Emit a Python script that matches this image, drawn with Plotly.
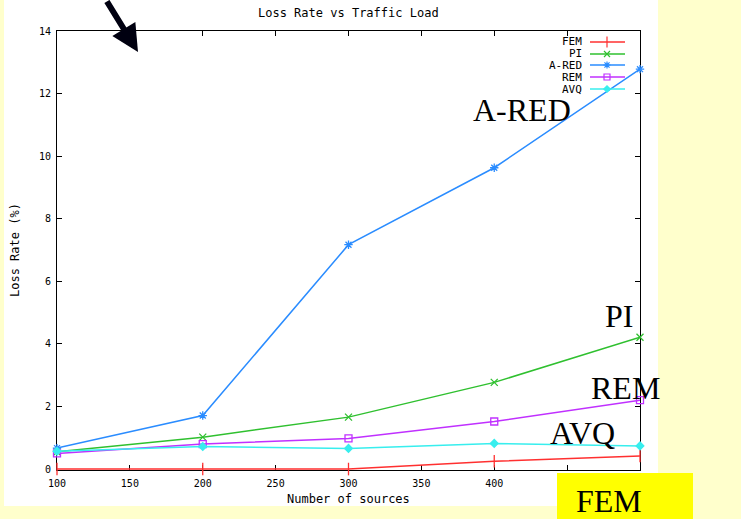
import plotly.graph_objects as go

# ---- data ----
sources = [100, 200, 300, 400, 500]
series_names = ["FEM", "PI", "A-RED", "REM", "AVQ"]
fem = [0.0, 0.0, 0.0, 0.25, 0.42]
pi = [0.55, 1.02, 1.66, 2.77, 4.21]
ared = [0.67, 1.71, 7.17, 9.63, 12.78]
rem = [0.5, 0.8, 0.98, 1.52, 2.2]
avq = [0.57, 0.72, 0.66, 0.82, 0.74]
y_ticks = [0, 2, 4, 6, 8, 10, 12, 14]
x_ticks = [100, 150, 200, 250, 300, 350, 400, 450, 500]
x_ticklabels = ["100", "150", "200", "250", "300", "350", "400", "", ""]  # 450/500 hidden under the FEM box

values = [fem, pi, ared, rem, avq]
colors = ["#ff3030", "#2fc02f", "#2a8cff", "#c030ff", "#38eeee"]
symbols = ["line-ns-open", "x-thin-open", "asterisk-open", "square-open", "diamond"]
msizes = [9, 7, 7, 7, 6]

W, H = 741, 519
L, R, T, B = 57, 640, 31, 470  # plot area in pixels
PW, PH = R - L, B - T


def px(x):
    return (x - L) / PW


def py(y):
    return (B - y) / PH


mono = "DejaVu Sans Mono"
serif = "Liberation Serif"

fig = go.Figure()
for name, vals, c, s, ms in zip(series_names, values, colors, symbols, msizes):
    fig.add_trace(go.Scatter(
        x=sources, y=vals, name=name, mode="lines+markers",
        line=dict(color=c, width=1.5),
        marker=dict(symbol=s, size=ms, color=c, line=dict(color=c, width=1.3)),
        showlegend=False, cliponaxis=False,
    ))

# manual legend (text left, key right), keys drawn on an overlay axis in paper-like units
leg_rows = [42, 54, 65, 77, 89]
shapes = []
annotations = []
for i, (name, c, s, ms) in enumerate(zip(series_names, colors, symbols, msizes)):
    yy = py(leg_rows[i])
    shapes.append(dict(type="line", xref="paper", yref="paper",
                       x0=px(590), x1=px(625), y0=yy, y1=yy,
                       line=dict(color=c, width=1.5)))
    annotations.append(dict(text=name, xref="paper", yref="paper",
                            x=px(584), y=yy, xanchor="right", yanchor="middle",
                            showarrow=False, font=dict(family=mono, size=11, color="black")))
    fig.add_trace(go.Scatter(
        x=[px(607)], y=[yy], xaxis="x2", yaxis="y2", mode="markers",
        marker=dict(symbol=s, size=ms - 1, color=c, line=dict(color=c, width=1.2)),
        showlegend=False, hoverinfo="skip", cliponaxis=False,
    ))

# white slide panel behind the chart
shapes.insert(0, dict(type="rect", xref="paper", yref="paper", layer="below",
                      x0=px(4), x1=px(658), y0=py(506), y1=py(-5),
                      fillcolor="white", line=dict(width=0)))
# yellow FEM box
shapes.append(dict(type="rect", xref="paper", yref="paper", layer="above",
                   x0=px(557), x1=px(693), y0=py(525), y1=py(473),
                   fillcolor="#ffff00", line=dict(width=0)))

# titles
annotations += [
    dict(text="Loss Rate vs Traffic Load", xref="paper", yref="paper",
         x=px(348), y=py(13), showarrow=False, xanchor="center", yanchor="middle",
         font=dict(family=mono, size=12, color="black")),
    dict(text="Number of sources", xref="paper", yref="paper",
         x=px(348), y=py(499), showarrow=False, xanchor="center", yanchor="middle",
         font=dict(family=mono, size=12, color="black")),
    dict(text="Loss Rate (%)", xref="paper", yref="paper", textangle=-90,
         x=px(15), y=py(250), showarrow=False, xanchor="center", yanchor="middle",
         font=dict(family=mono, size=12, color="black")),
]

# big slide labels
big = [("A-RED", 522, 110), ("PI", 619, 316), ("REM", 625, 388), ("AVQ", 582, 433), ("FEM", 609, 501)]
for t, xx, yy in big:
    annotations.append(dict(text=t, xref="paper", yref="paper", x=px(xx), y=py(yy),
                            xanchor="center", yanchor="middle", showarrow=False,
                            font=dict(family=serif, size=32, color="black")))

# arrow
annotations.append(dict(text="", xref="paper", yref="paper", x=px(138), y=py(52),
                        ax=-32, ay=-58, showarrow=True, arrowhead=2, arrowsize=0.9,
                        arrowwidth=6, arrowcolor="#000010", standoff=0))

axis_common = dict(ticks="inside", ticklen=5, showgrid=False, zeroline=False,
                   showline=True, linecolor="black", linewidth=1, mirror="ticks",
                   tickcolor="black", layer="below traces",
                   tickfont=dict(family=mono, size=10, color="black"))

fig.update_layout(
    width=W, height=H,
    margin=dict(l=L, r=W - R, t=T, b=H - B, pad=0),
    paper_bgcolor="#ffffcc", plot_bgcolor="white",
    shapes=shapes, annotations=annotations, showlegend=False,
    xaxis=dict(range=[100, 500], tickvals=x_ticks, ticktext=x_ticklabels,
               ticklabelstandoff=4, **axis_common),
    yaxis=dict(range=[-0.03, 14], tickvals=y_ticks, ticklabelstandoff=3, **axis_common),
    xaxis2=dict(range=[0, 1], overlaying="x", visible=False, fixedrange=True),
    yaxis2=dict(range=[0, 1], overlaying="y", visible=False, fixedrange=True),
)

fig.write_html("out.html")
